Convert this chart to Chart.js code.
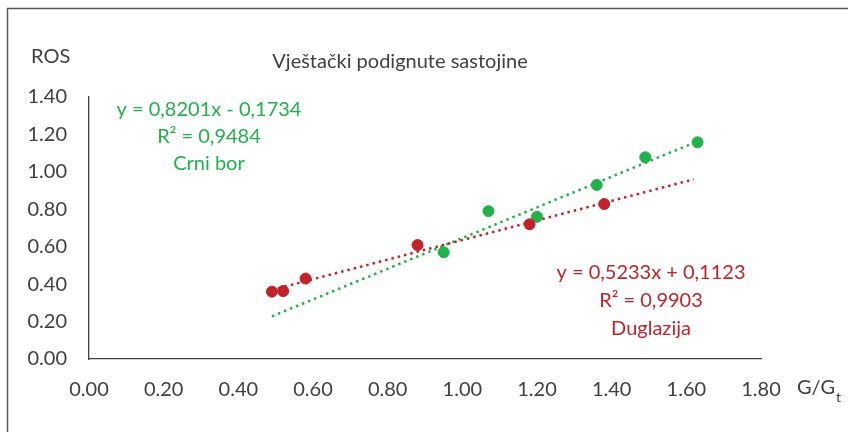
<!DOCTYPE html>
<html>
<head>
<meta charset="utf-8">
<script src="https://cdn.jsdelivr.net/npm/chart.js@4/dist/chart.umd.min.js"></script>
<style>
  html, body { margin: 0; padding: 0; background: #fff; }
  #wrap { width: 848px; height: 432px; position: relative; }
</style>
</head>
<body>
<div id="wrap"><canvas id="chart" width="848" height="432"></canvas></div>
<script>
// values
const titleText = 'Vještački podignute sastojine';
const yAxisTitle = 'ROS';

const xTicks = [0, 0.2, 0.4, 0.6, 0.8, 1.0, 1.2, 1.4, 1.6, 1.8];
const yTicks = [0, 0.2, 0.4, 0.6, 0.8, 1.0, 1.2, 1.4];

// Duglazija (red)
const duglazijaX = [0.49, 0.52, 0.58, 0.88, 1.18, 1.38];
const duglazijaY = [0.36, 0.363, 0.43, 0.609, 0.72, 0.828];
const duglazijaTrendX = [0.49, 1.62];
const duglazijaTrendY = [0.369, 0.960];
const duglazijaLabel = ['y = 0,5233x + 0,1123', 'R² = 0,9903', 'Duglazija'];

// Crni bor (green)
const crniBorX = [0.95, 1.07, 1.20, 1.36, 1.49, 1.63];
const crniBorY = [0.57, 0.79, 0.76, 0.93, 1.078, 1.158];
const crniBorTrendX = [0.49, 1.63];
const crniBorTrendY = [0.228, 1.163];
const crniBorLabel = ['y = 0,8201x - 0,1734', 'R² = 0,9484', 'Crni bor'];

const RED = '#c1232b';
const GREEN = '#22b04b';
const TEXT = '#404040';
const FONT = 'Lato, "Open Sans", sans-serif';

function toPoints(xs, ys) {
    return xs.map((x, i) => ({x: x, y: ys[i]}));
}

// draws frame, title, axis titles and the trendline labels
const decorations = {
    id: 'decorations',
    afterDraw(chart) {
        const ctx = chart.ctx;
        ctx.save();
        // outer frame (left and top edges visible)
        ctx.strokeStyle = '#595959';
        ctx.lineWidth = 1.5;
        ctx.beginPath();
        ctx.moveTo(7.5, 432);
        ctx.lineTo(7.5, 8.5);
        ctx.lineTo(848, 8.5);
        ctx.stroke();

        ctx.font = '20px ' + FONT;
        ctx.textBaseline = 'middle';
        ctx.fillStyle = TEXT;
        ctx.textAlign = 'center';
        ctx.fillText(titleText, 400, 62);
        ctx.textAlign = 'left';
        ctx.fillText(yAxisTitle, 31, 57);

        // x axis title G/G with subscript t
        ctx.fillText('G/G', 797, 388);
        let w = ctx.measureText('G/G').width;
        ctx.font = '14px ' + FONT;
        ctx.fillText('t', 797 + w + 1, 397);

        ctx.font = '20px ' + FONT;
        ctx.textAlign = 'center';
        ctx.fillStyle = GREEN;
        crniBorLabel.forEach((t, i) => ctx.fillText(t, 209, 110 + i * 27));
        ctx.fillStyle = RED;
        duglazijaLabel.forEach((t, i) => ctx.fillText(t, 651, 273 + i * 28));
        ctx.restore();
    }
};

const tickFont = {family: FONT, size: 20};

new Chart(document.getElementById('chart'), {
    type: 'scatter',
    data: {
        datasets: [
            {
                label: 'Duglazija trend',
                data: toPoints(duglazijaTrendX, duglazijaTrendY),
                showLine: true,
                borderColor: RED,
                borderWidth: 2.5,
                borderDash: [2.5, 4],
                pointRadius: 0,
                fill: false,
                order: 3
            },
            {
                label: 'Crni bor trend',
                data: toPoints(crniBorTrendX, crniBorTrendY),
                showLine: true,
                borderColor: GREEN,
                borderWidth: 2.5,
                borderDash: [2.5, 4],
                pointRadius: 0,
                fill: false,
                order: 4
            },
            {
                label: 'Duglazija',
                data: toPoints(duglazijaX, duglazijaY),
                backgroundColor: RED,
                borderColor: RED,
                pointRadius: 5.5,
                order: 1
            },
            {
                label: 'Crni bor',
                data: toPoints(crniBorX, crniBorY),
                backgroundColor: GREEN,
                borderColor: GREEN,
                pointRadius: 5.5,
                order: 2
            }
        ]
    },
    options: {
        responsive: false,
        animation: false,
        layout: {padding: {top: 97, right: 87, left: 0, bottom: 0}},
        plugins: {
            legend: {display: false},
            tooltip: {enabled: false}
        },
        scales: {
            x: {
                type: 'linear',
                min: 0,
                max: 1.8,
                afterBuildTicks: (axis) => { axis.ticks = xTicks.map(v => ({value: v})); },
                afterFit: (axis) => { axis.height = 73; },
                grid: {display: false, drawTicks: false},
                border: {display: true, color: TEXT, width: 1.3},
                ticks: {
                    font: tickFont,
                    color: TEXT,
                    padding: 19,
                    maxRotation: 0,
                    callback: (v) => Number(v).toFixed(2)
                }
            },
            y: {
                type: 'linear',
                min: 0,
                max: 1.4,
                afterBuildTicks: (axis) => { axis.ticks = yTicks.map(v => ({value: v})); },
                afterFit: (axis) => { axis.width = 89; },
                grid: {display: false, drawTicks: false},
                border: {display: true, color: TEXT, width: 1.3},
                ticks: {
                    font: tickFont,
                    color: TEXT,
                    padding: 22,
                    callback: (v) => Number(v).toFixed(2)
                }
            }
        }
    },
    plugins: [decorations]
});
</script>
</body>
</html>
